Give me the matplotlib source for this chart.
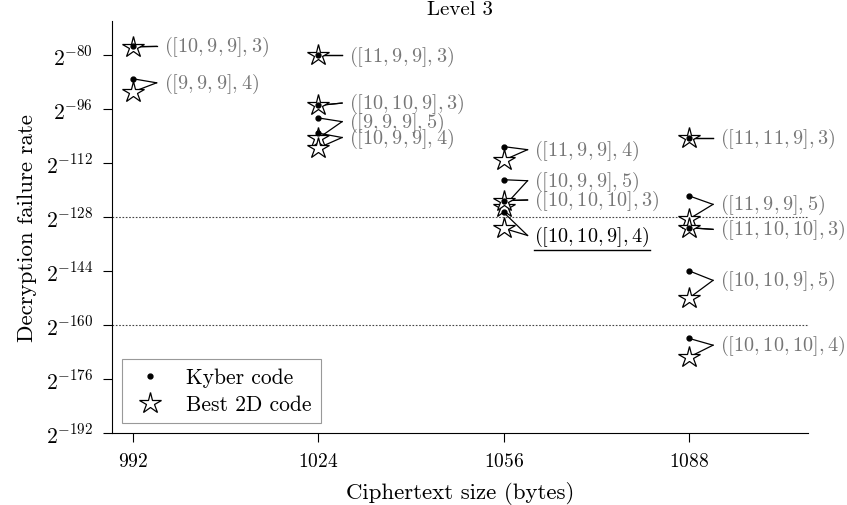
import numpy as np
import matplotlib
matplotlib.use("Agg")
import matplotlib.pyplot as plt
from matplotlib.lines import Line2D
from matplotlib.ticker import FixedLocator, FuncFormatter, NullLocator

plt.rcParams['font.family'] = 'serif'
plt.rcParams['font.serif'] = ['cmr10']
plt.rcParams['mathtext.fontset'] = 'cm'
plt.rcParams['axes.formatter.use_mathtext'] = True

# ciphertext size (bytes) of each parameter set
sizes = [992, 992,
         1024, 1024, 1024, 1024,
         1056, 1056, 1056, 1056,
         1088, 1088, 1088, 1088, 1088]
params = ["([10, 9, 9], 3)", "([9, 9, 9], 4)",
          "([11, 9, 9], 3)", "([10, 10, 9], 3)", "([9, 9, 9], 5)", "([10, 9, 9], 4)",
          "([11, 9, 9], 4)", "([10, 9, 9], 5)", "([10, 10, 10], 3)", "([10, 10, 9], 4)",
          "([11, 11, 9], 3)", "([11, 9, 9], 5)", "([11, 10, 10], 3)", "([10, 10, 9], 5)",
          "([10, 10, 10], 4)"]
# log2 of decryption failure rate
kyber_log2 = [-77.5, -87.1,
              -80.2, -95.0, -98.7, -103.2,
              -107.2, -117.0, -123.2, -126.7,
              -104.7, -121.8, -131.2, -144.0, -164.0]
best_log2 = [-77.7, -91.0,
             -80.2, -95.0, -104.7, -107.6,
             -111.2, -125.0, -123.2, -131.4,
             -104.7, -128.6, -131.2, -152.0, -169.5]
# where the labels sit (log2)
label_log2 = [-77.5, -88.3,
              -80.2, -94.3, -99.8, -104.5,
              -108.1, -117.3, -123.0, -133.5,
              -104.7, -124.3, -131.7, -146.8, -166.0]
chosen = "([10, 10, 9], 4)"
security_levels = [-128, -160]
xticks = [992, 1024, 1056, 1088]
yticks_log2 = list(range(-192, -79, 16))

fig = plt.figure(figsize=(8.47, 5.06), dpi=100)
ax = fig.add_axes([0.1322, 0.1423, 0.8218, 0.8142])

ax.set_yscale('log', base=2)
for s in security_levels:
    ax.axhline(2.0 ** s, color='#444444', lw=0.8, ls=(0, (1.5, 1.5)), zorder=1)

texts = []
for x, p, k, b, l in zip(sizes, params, kyber_log2, best_log2, label_log2):
    ax.plot([x, x + 4.1], [2.0 ** k, 2.0 ** l], color='black', lw=0.9, zorder=2)
    ax.plot([x, x + 4.1], [2.0 ** b, 2.0 ** l], color='black', lw=0.9, zorder=2)
    col = 'black' if p == chosen else '#777777'
    t = ax.text(x + 5.3, 2.0 ** l, '$' + p + '$', color=col, fontsize=14.6,
                va='center', ha='left', zorder=4)
    texts.append((p, t))

ax.plot(sizes, [2.0 ** v for v in best_log2], ls='none', marker='*', ms=16,
        mfc='white', mec='black', mew=0.9, zorder=3, label='Best 2D code')
ax.plot(sizes, [2.0 ** v for v in kyber_log2], ls='none', marker='o', ms=3.5,
        color='black', zorder=3.5, label='Kyber code')

ax.set_xlim(988.4, 1108.5)
ax.set_ylim(2.0 ** -192, 2.0 ** -70)
ax.xaxis.set_major_locator(FixedLocator(xticks))
ax.yaxis.set_major_locator(FixedLocator([2.0 ** v for v in yticks_log2]))
ax.yaxis.set_minor_locator(NullLocator())
ax.yaxis.set_major_formatter(FuncFormatter(lambda v, _: r'$2^{%d}$' % round(np.log2(v))))
ax.tick_params(direction='out', length=6.5, width=0.8)
ax.tick_params(axis='x', labelsize=14, pad=7)
ax.tick_params(axis='y', labelsize=15.5, pad=7)

ax.spines['top'].set_visible(False)
ax.spines['right'].set_visible(False)

ax.set_xlabel('Ciphertext size (bytes)', fontsize=16.5, labelpad=8)
ax.set_ylabel('Decryption failure rate', fontsize=16.5, labelpad=6)
ax.set_title('Level 3', fontsize=15, pad=5)

h, lab = ax.get_legend_handles_labels()
leg = ax.legend(h[::-1], lab[::-1], loc='lower left', fontsize=15.5, fancybox=False,
                edgecolor='#999999', framealpha=1, borderaxespad=0.46,
                handlelength=1.8, labelspacing=0.35)
leg.get_frame().set_linewidth(0.8)

# underline the chosen parameter set
fig.canvas.draw()
for p, t in texts:
    if p == chosen:
        bb = t.get_window_extent()
        fig.add_artist(Line2D([bb.x0, bb.x1], [bb.y0 - 2, bb.y0 - 2],
                              transform=None, color='black', lw=1))

fig.savefig('out.png', dpi=100)
